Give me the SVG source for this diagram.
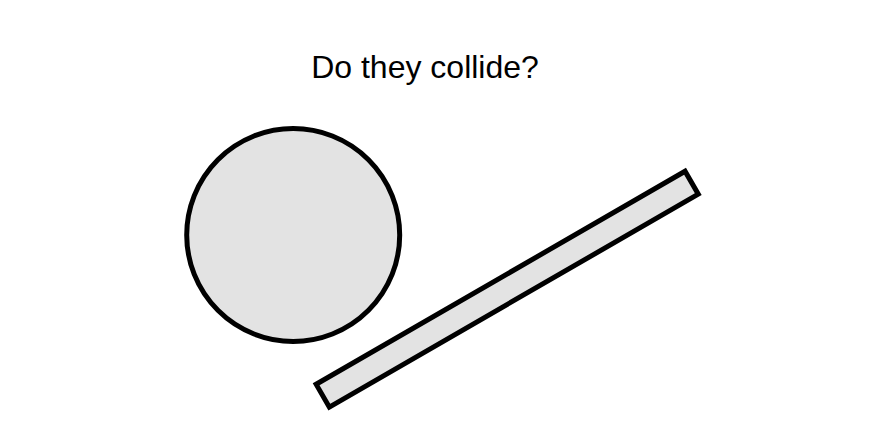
<svg xmlns="http://www.w3.org/2000/svg" width="880" height="433" viewBox="0 0 880 433">
<style>
.shape{fill:#e3e3e3;stroke:#000;stroke-width:5}
.title{font-family:"Liberation Sans",Arial,sans-serif;font-size:32px;fill:#000}
</style>
<rect width="880" height="433" fill="#fff"/>
<text class="title" x="425" y="77.5" text-anchor="middle">Do they collide?</text>
<g id="circle"><circle class="shape" cx="293.2" cy="235" r="106.5"/></g>
<g id="bar"><rect class="shape" x="-213" y="-13.2" width="426" height="26.4" transform="translate(507.2 289.2) rotate(-30)"/></g>
<g id="connectors"></g>
</svg>
